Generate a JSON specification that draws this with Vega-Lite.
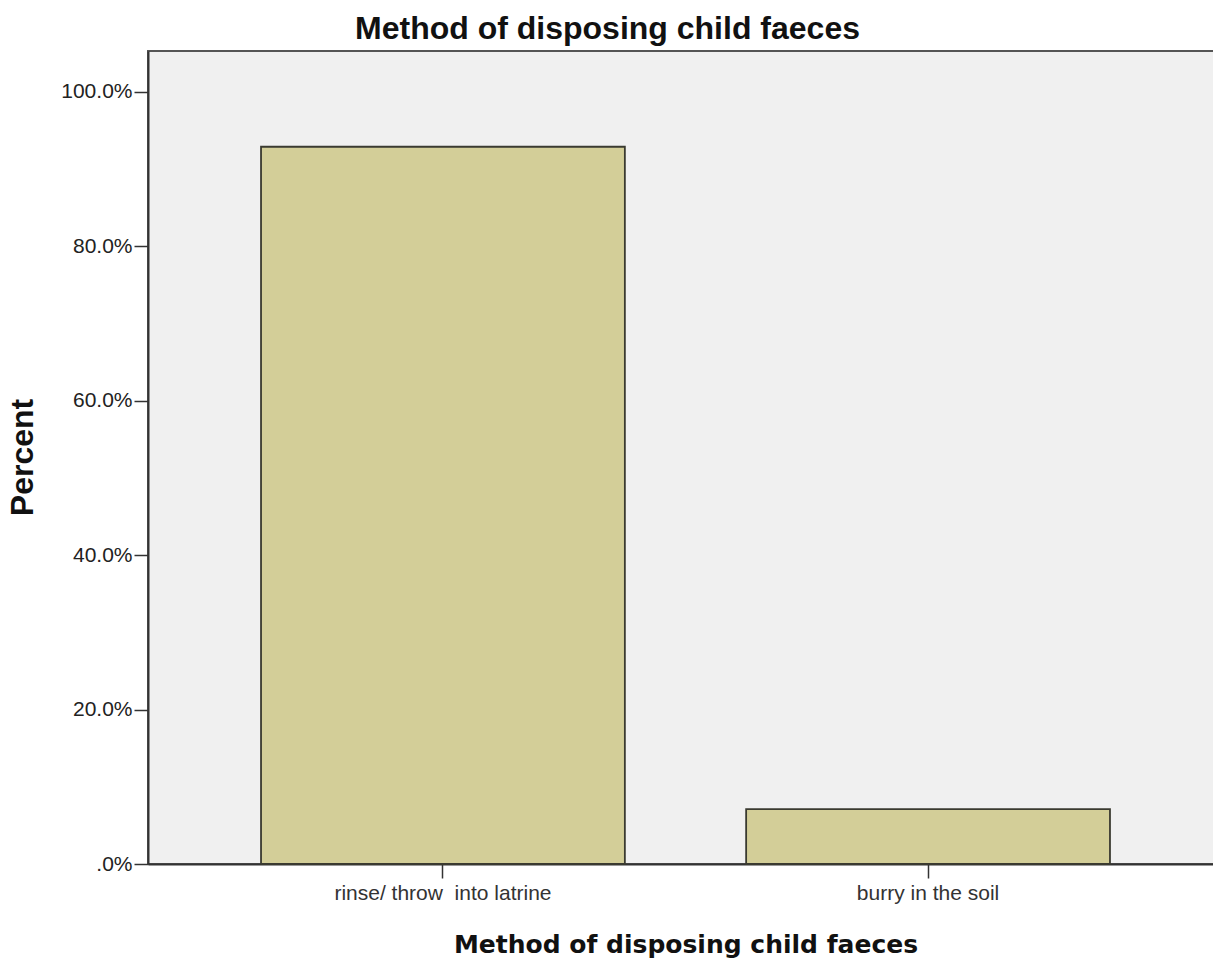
{
  "$schema": "https://vega.github.io/schema/vega-lite/v6.json",
  "autosize": {"type": "none"},
  "padding": {"left": 148, "top": 51, "right": 0, "bottom": 94},
  "width": 1075,
  "height": 813,
  "background": "#ffffff",
  "title": {
    "text": "Method of disposing child faeces",
    "font": "Liberation Sans",
    "fontSize": 32,
    "fontWeight": "bold",
    "color": "#111111",
    "anchor": "middle",
    "frame": "group",
    "baseline": "bottom",
    "offset": 8,
    "dx": -78,
    "dy": 35
  },
  "config": {
    "view": {"fill": "#f0f0f0", "stroke": "#555555", "strokeWidth": 2},
    "axis": {"grid": false}
  },
  "data": {
    "values": [
      {"method": "rinse/ throw\u00a0 into latrine", "percent": 92.9},
      {"method": "burry in the soil", "percent": 7.1}
    ]
  },
  "mark": {"type": "bar", "fill": "#d3ce98", "stroke": "#3a3a30", "strokeWidth": 1.8},
  "encoding": {
    "x": {
      "field": "method",
      "type": "nominal",
      "sort": null,
      "scale": {"paddingInner": 0.25, "paddingOuter": 0.233},
      "axis": {
        "title": "Method of disposing child faeces",
        "titleFont": "DejaVu Sans",
        "titleFontSize": 25,
        "titleFontWeight": "bold",
        "titleColor": "#111111",
        "titleY": 88,
        "titleBaseline": "alphabetic",
        "labelAngle": 0,
        "labelFont": "Liberation Sans",
        "labelFontSize": 21,
        "labelLimit": 600,
        "labelColor": "#333333",
        "labelPadding": 4,
        "tickSize": 14,
        "tickColor": "#333333",
        "tickWidth": 1.5,
        "domainColor": "#333333",
        "domainWidth": 2
      }
    },
    "y": {
      "field": "percent",
      "type": "quantitative",
      "scale": {"domain": [0, 105.3], "nice": false},
      "axis": {
        "title": "Percent",
        "titleFont": "Liberation Sans",
        "titleFontSize": 32,
        "titleFontWeight": "bold",
        "titleColor": "#111111",
        "titleAngle": 270,
        "titleX": -126,
        "titleY": 406,
        "titleAlign": "center",
        "titleBaseline": "middle",
        "values": [0, 20, 40, 60, 80, 100],
        "labelExpr": "datum.value == 0 ? '.0%' : format(datum.value, '.1f') + '%'",
        "labelFont": "Liberation Sans",
        "labelFontSize": 21,
        "labelColor": "#222222",
        "labelPadding": 2,
        "tickSize": 14,
        "tickColor": "#333333",
        "tickWidth": 1.5,
        "domainColor": "#333333",
        "domainWidth": 2
      }
    }
  }
}
